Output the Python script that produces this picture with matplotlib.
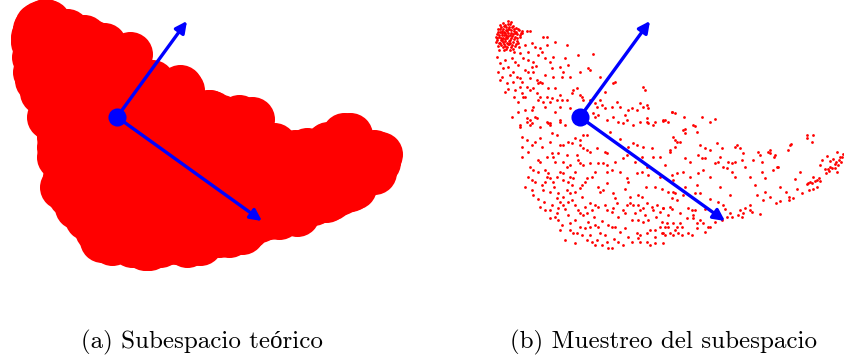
import numpy as np
import matplotlib.pyplot as plt

# sample points projected on the first two components
cluster_pts = [
    (-69, 95), (-72, 93), (-75, 92), (-67, 91), (-79, 90), (-71, 90), (-64, 89), (-82, 88),
    (-77, 88), (-74, 87), (-69, 87), (-66, 86), (-61, 87), (-80, 85), (-76, 85), (-72, 84),
    (-83, 83), (-78, 82), (-74, 82), (-70, 82), (-67, 83), (-63, 83), (-81, 80), (-77, 79),
    (-73, 79), (-69, 79), (-65, 80), (-60, 80), (-83, 77), (-79, 77), (-75, 76), (-71, 76),
    (-67, 75), (-63, 76), (-80, 74), (-76, 73), (-72, 73), (-68, 72), (-82, 71), (-77, 70),
    (-73, 70), (-65, 71), (-80, 92), (-74, 90), (-71, 88), (-78, 86), (-75, 84), (-81, 82),
    (-72, 81), (-68, 81), (-79, 79), (-75, 78), (-70, 77), (-77, 75), (-73, 74), (-62, 74),
    (-84, 75), (-83, 79), (-64, 85), (-59, 84), (-69, 70), (-61, 70), (-81, 67), (-76, 67),
    (-70, 67), (-66, 65), (-70, 93), (-76, 91), (-66, 88), (-73, 86), (-80, 88), (-69, 84),
    (-74, 80), (-78, 77), (-66, 78), (-71, 73), (-75, 71), (-63, 79), (-82, 85), (-60, 82),
    (-68, 90), (-77, 94), (-72, 96), (-65, 84), (-79, 72), (-84, 80), (-70, 74), (-62, 88),
    (-58, 86), (-74, 68), (-67, 68), (-81, 74), (-76, 82), (-64, 73), (-72, 88), (-78, 84),
]

arm_pts = [
    (-53, 86), (-50, 86), (-58, 84), (-37, 80), (-33, 80), (-48, 74), (-45, 70), (-33, 72),
    (-13, 72), (-38, 65), (-42, 62), (-2, 62), (13, 63), (-52, 57), (-47, 55), (-48, 50),
    (-27, 60), (-15, 59), (-83, 60), (-80, 54), (-77, 49), (-72, 50), (-68, 59), (-65, 55),
    (-67, 45), (-60, 64), (-57, 59), (-20, 50), (-12, 52), (-17, 45), (-28, 49), (8, 49),
    (10, 47), (-55, 47), (-52, 45), (-47, 45), (-82, 45), (-73, 34), (-67, 35), (-60, 39),
    (-58, 35), (-63, 40), (-43, 37), (-40, 35), (-42, 34), (-38, 34), (-27, 40), (-18, 40),
    (-53, 30), (-50, 27), (-47, 29), (-75, 25), (-58, 24), (-57, 20), (-43, 24), (-40, 20),
    (-42, 17), (-33, 20), (-28, 19), (-30, 15), (-20, 22), (-13, 17), (-7, 27), (-3, 29),
    (-8, 24), (0, 22), (3, 17), (2, 20), (-23, 17), (-18, 17), (-47, 10), (-48, 7),
    (-37, 15), (-35, 10), (10, 17), (15, 14), (20, 17), (17, 10), (22, 12), (25, 9),
    (35, 35), (33, 34), (63, 30), (65, 27), (37, 15), (40, 10), (32, 10), (48, 7),
    (52, 9), (57, 7), (60, 14), (63, 10), (67, 12), (68, 9), (-68, 0), (-53, -1),
    (-50, -3), (-43, -1), (-33, -5), (-30, -6), (-20, -3), (-15, -8), (13, 4), (15, 0),
    (18, 2), (27, -3), (33, 0), (38, -5), (45, 2), (47, -3), (75, -5), (85, -3),
    (92, 5), (60, -5), (67, -1), (-60, -10), (-50, -8), (-55, 72), (-40, 69), (-52, 65),
    (-35, 59), (-62, 52), (-44, 51), (-75, 57), (-70, 42), (-80, 37), (-35, 42), (-50, 39),
    (-65, 27), (-32, 29), (-25, 29), (-62, 15), (-55, 7), (-25, 5), (-10, 9),
    (-78, 40), (-72, 28), (-66, 20), (-60, 30), (-55, 20), (-62, 5), (-45, 0), (-20, 10),
    (-5, 5), (20, 40), (25, 25), (-10, 40), (0, 45), (-30, 55), (-25, 75),
]

body_pts = [
    (-60, -8), (-53, -5), (-48, -6), (-32, -6), (-30, -8), (-20, -5), (43, -6), (53, -8),
    (67, -5), (68, -6), (73, -8), (83, -3), (-58, -20), (-53, -23), (-45, -25), (-40, -21),
    (-28, -16), (-23, -18), (-20, -28), (-17, -28), (-12, -25), (-8, -26), (-5, -21), (0, -23),
    (3, -18), (7, -18), (0, -28), (3, -31), (7, -33), (10, -35), (17, -31), (25, -35),
    (27, -36), (53, -26), (57, -28), (63, -30), (72, -31), (73, -40), (90, -33), (93, -20),
    (97, -25), (-58, -40), (-42, -43), (-40, -45), (-33, -40), (-28, -36), (-27, -40), (-22, -36),
    (-13, -38), (-17, -45), (-13, -50), (-10, -48), (-3, -38), (-2, -43), (0, -46), (3, -48),
    (10, -46), (18, -46), (23, -46), (27, -48), (32, -53), (27, -55), (-50, -50), (-47, -53),
    (-35, -53), (-32, -56), (-33, -60), (-30, -61), (-35, -65), (-27, -65), (-23, -60), (-20, -55),
    (-17, -56), (-10, -60), (-7, -61), (-12, -65), (-17, -63), (7, -61), (5, -65), (-45, -65),
    (-48, -63), (43, -41), (47, -38), (57, -56), (62, -55), (67, -50), (68, -58), (47, -61),
    (48, -65), (80, -60), (92, -58), (97, -56), (-48, -73), (-47, -78), (-37, -73), (-30, -75),
    (-22, -76), (-23, -81), (-20, -85), (-17, -80), (-13, -73), (-10, -76), (-5, -75), (0, -71),
    (2, -68), (2, -80), (18, -70), (20, -75), (23, -73), (27, -66), (33, -76), (35, -81),
    (58, -78), (62, -80), (-40, -90), (-35, -93), (-28, -88), (-22, -91), (-17, -88), (-12, -85),
    (-8, -83), (-5, -88), (-2, -93), (0, -96), (3, -98), (7, -96), (10, -86), (15, -88),
    (18, -90), (12, -93), (25, -88), (27, -93), (32, -95), (33, -91), (37, -86), (43, -93),
    (47, -88), (50, -86), (53, -88), (58, -88), (60, -93), (63, -91), (67, -86), (72, -90),
    (73, -93), (77, -88), (83, -91), (90, -90), (97, -83), (-30, -93), (-30, -101), (-22, -103),
    (-20, -113), (-10, -113), (-7, -116), (0, -110), (5, -111), (10, -110), (15, -108), (18, -110),
    (-3, -116), (2, -118), (10, -118), (20, -116), (25, -118), (32, -110), (35, -110), (45, -111),
    (52, -103), (58, -103), (63, -105), (68, -103), (57, -116), (60, -118), (67, -116), (70, -113),
    (75, -113), (80, -110), (85, -110), (87, -106), (93, -106), (97, -110), (82, -116), (85, -118),
    (93, -118), (7, -123), (12, -125), (17, -123), (15, -128), (27, -125), (28, -131), (32, -131),
    (38, -125), (43, -128), (58, -121), (60, -125), (67, -125), (75, -126), (83, -126), (-10, -106),
    (-23, -96), (-15, -123), (-5, -126), (-40, -10), (-58, -30), (-52, -35), (-48, -28), (-38, -30),
    (-30, -25), (-25, -45), (-42, -55), (-38, -68), (-52, -60), (-55, -70), (-42, -82), (-36, -85),
    (-26, -70), (-15, -92), (-25, -100), (-18, -108), (-12, -98), (-5, -103), (5, -90), (8, -105),
    (14, -100), (22, -104), (28, -108), (38, -100), (40, -115), (48, -120), (52, -125), (34, -122),
    (22, -128), (45, -96), (55, -96), (65, -98), (76, -100), (80, -95), (88, -98), (92, -92),
    (75, -120), (70, -128), (5, -5), (30, -15), (40, -22), (48, -30), (35, -45), (40, -55),
    (55, -45), (62, -40), (80, -40), (85, -48), (75, -70), (82, -72), (66, -70), (45, -72),
    (50, -80), (12, -60), (15, -55), (-5, -55), (-8, -68),
]

tail_pts = [
    (92, 5), (95, 4), (104, 0), (122, 0), (130, -5), (135, -2), (83, -4), (88, -5),
    (115, -9), (105, -12), (113, -8), (103, -13), (105, -16), (117, -15), (95, -23), (100, -25),
    (90, -35), (95, -30), (227, -18), (233, -18), (232, -25), (210, -28), (208, -33), (125, -31),
    (130, -33), (137, -26), (142, -31), (157, -28), (155, -30), (160, -31), (163, -36), (118, -38),
    (122, -41), (125, -41), (105, -41), (110, -45), (135, -46), (138, -45), (143, -50), (148, -45),
    (152, -46), (155, -45), (162, -43), (147, -51), (152, -55), (173, -43), (178, -35), (180, -38),
    (188, -35), (190, -36), (195, -38), (197, -50), (193, -53), (182, -45), (123, -53), (118, -56),
    (103, -55), (155, -60), (182, -55), (185, -61), (93, -63), (257, -35), (263, -37), (262, -40),
    (259, -43), (261, -45), (256, -45), (255, -47), (258, -48), (247, -39), (242, -43), (250, -50),
    (252, -51), (248, -52), (249, -54), (246, -56), (257, -55), (255, -51), (233, -60), (235, -64),
    (230, -65), (232, -66), (228, -66), (227, -67), (237, -63), (239, -61), (240, -64), (237, -70),
    (217, -72), (222, -76), (206, -75), (229, -73), (233, -72), (209, -80), (213, -81), (209, -83),
    (200, -84), (196, -86), (183, -83), (180, -97), (227, -21), (211, -27), (190, -33), (194, -40),
    (198, -50), (177, -78), (170, -88), (165, -91), (170, -93), (160, -93), (163, -96), (158, -98),
    (162, -100), (172, -95), (150, -96), (147, -100), (152, -100), (150, -78), (138, -85), (143, -88),
    (117, -68), (115, -76), (120, -76), (88, -75), (93, -75), (95, -76), (92, -81), (103, -78),
    (108, -91), (112, -93), (115, -93), (113, -98), (100, -96), (107, -101), (113, -101), (120, -103),
    (123, -106), (117, -106), (130, -110), (128, -110), (100, -106), (102, -110), (82, -105), (88, -110),
    (83, -116), (90, -116), (98, -116), (102, -118), (108, -116), (112, -118), (117, -111), (125, -115),
    (83, -91), (95, -113), (138, -96), (142, -103), (110, -60), (105, -70), (130, -60), (140, -70),
    (130, -82), (125, -92), (135, -105), (145, -92), (120, -28), (140, -40), (165, -50), (170, -60),
    (175, -68), (185, -75), (190, -80), (200, -70), (215, -62), (220, -55), (240, -48), (245, -52),
    (250, -44), (260, -40), (253, -42),
]

mean_pt = (0, 0)
components = [(70, 96), (145, -104)]

captions = ['(a) Subespacio teórico', '(b) Muestreo del subespacio']

pts = np.array(cluster_pts + arm_pts + body_pts + tail_pts, dtype=float)
xs, ys = pts[:, 0], pts[:, 1]

fig = plt.figure(figsize=(8.45, 3.6), dpi=100)
W, H = 845, 360

# left panel: big markers (theoretical subspace), right panel: the samples
ax_a = fig.add_axes([0 / W, (H - 290) / H, 422 / W, 290 / H])
ax_b = fig.add_axes([463 / W, (H - 290) / H, 382 / W, 290 / H])
ax_a.set_xlim(-117, 305)
ax_b.set_xlim(-117, 265)
for ax in (ax_a, ax_b):
    ax.set_ylim(-173, 117)
    ax.set_aspect('equal')
    ax.axis('off')

ax_a.scatter(xs, ys, s=1050, color='#ff0000', linewidths=0, zorder=1)
ax_b.scatter(xs, ys, s=4, marker='o', color='#ff0000', linewidths=0, zorder=1)

for ax in (ax_a, ax_b):
    for vx, vy in components:
        ax.annotate('', xy=(mean_pt[0] + vx, mean_pt[1] + vy), xytext=mean_pt,
                    arrowprops=dict(arrowstyle='-|>', color='#0000ff', lw=2.4,
                                    mutation_scale=17, shrinkA=0, shrinkB=0),
                    zorder=2)
    ax.scatter([mean_pt[0]], [mean_pt[1]], s=170, color='#0000ff', linewidths=0, zorder=3)

fam = ['cmr10', 'Liberation Serif']
fig.text(202 / W, 12 / H, captions[0], ha='center', va='baseline', fontsize=18, family=fam)
fig.text(664 / W, 12 / H, captions[1], ha='center', va='baseline', fontsize=18, family=fam)

fig.savefig('out.png', dpi=100)
